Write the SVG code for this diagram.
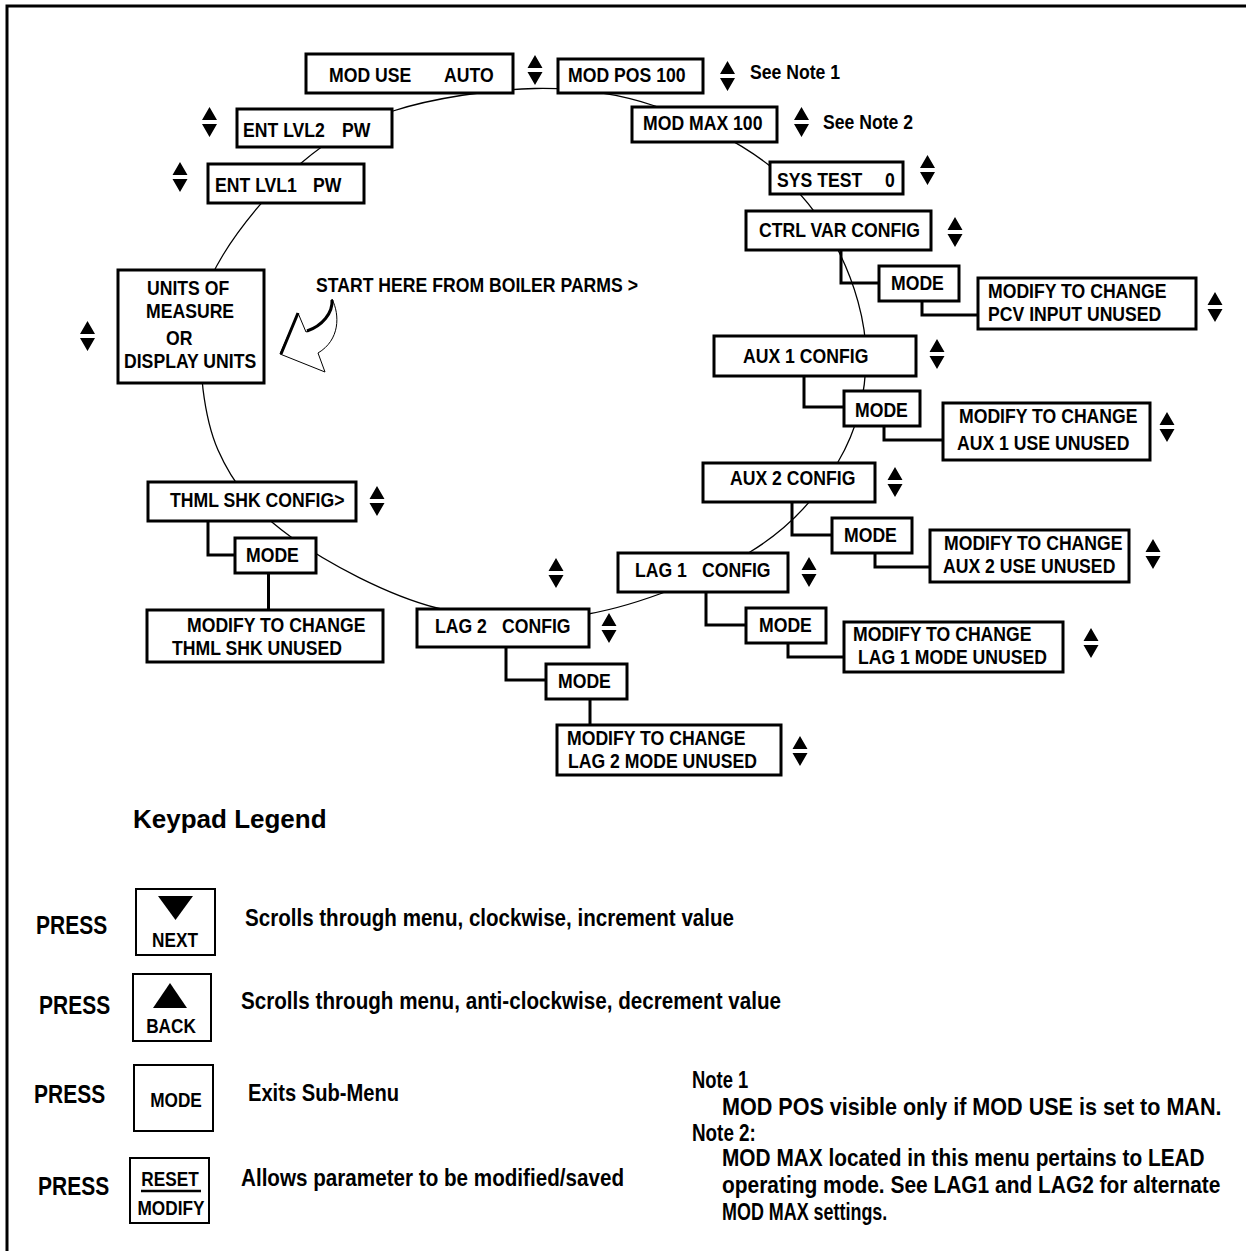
<svg xmlns="http://www.w3.org/2000/svg" width="1246" height="1251" viewBox="0 0 1246 1251">
<style>
text { font-family: "Liberation Sans", Arial, sans-serif; font-weight: bold; fill: #000; }
.n { font-size: 21px; }
.lg { font-size: 24px; }
.nt { font-size: 23px; }
.pr { font-size: 25px; }
.kt { font-size: 21px; text-anchor: middle; }
.title { font-size: 26px; }
.box { fill: #fff; stroke: #000; stroke-width: 3; }
.key { fill: #fff; stroke: #000; stroke-width: 2; }
.elb { fill: none; stroke: #000; stroke-width: 3; }
.ring { fill: none; stroke: #000; stroke-width: 1.3; }
</style>
<defs>
<g id="ud"><path d="M0,13 L7.5,0 L15,13 Z M0,17 L15,17 L7.5,30 Z" fill="#000"/></g>
</defs>
<rect x="0" y="0" width="1246" height="1251" fill="#fff"/>
<path d="M7,1251 V6 H1246" fill="none" stroke="#000" stroke-width="3"/>

<g id="connectors">
<path class="ring" d="M535,88.5 C578.7,87.7 615.8,92.8 655,106 C694.2,119.2 739.5,142 770,166 C800.5,190 822,218.3 838,250 C854,281.7 866,320.7 866,356 C866,391.3 857.3,429.3 838,462 C818.7,494.7 791.7,526.7 750,552 C708.3,577.3 640.2,604.7 588,614 C535.8,623.3 486.5,620.8 437,608 C387.5,595.2 327.5,563.3 291,537 C254.5,510.7 233.2,484.5 218,450 C202.8,415.5 199.2,362.5 200,330 C200.8,297.5 206.3,282.7 223,255 C239.7,227.3 271.7,188 300,164 C328.3,140 353.8,123.8 393,111 C432.2,98.2 491.3,89.3 535,88.5 Z"/>
<path class="elb" d="M841,250 V283 H879 M922,301 V315 H978"/>
<path class="elb" d="M804,376 V407 H844 M884,426 V440 H943"/>
<path class="elb" d="M792,502 V535 H832 M875,553 V567 H930"/>
<path class="elb" d="M706,592 V625 H746 M788,643 V657 H844"/>
<path class="elb" d="M506,647 V680 H546 M590,699 V725"/>
<path class="elb" d="M208,521 V555 H235 M268.5,573 V610"/>
</g>

<g id="mod-use"><rect class="box" x="306" y="54" width="207" height="39"/><text class="n" transform="translate(329,82) scale(.84,1)">MOD USE<tspan x="137">AUTO</tspan></text></g>
<g id="mod-pos"><rect class="box" x="558" y="59" width="145" height="34"/><text class="n" transform="translate(568,82) scale(.84,1)">MOD POS 100</text></g>
<g id="mod-max"><rect class="box" x="632" y="107" width="145" height="35"/><text class="n" transform="translate(643,130) scale(.84,1)">MOD MAX 100</text></g>
<g id="sys-test"><rect class="box" x="770" y="162" width="133" height="32"/><text class="n" transform="translate(777,187) scale(.84,1)">SYS TEST<tspan x="128.6">0</tspan></text></g>
<g id="ctrl-var"><rect class="box" x="746" y="211" width="185" height="39"/><text class="n" transform="translate(759,237) scale(.84,1)">CTRL VAR CONFIG</text></g>
<g id="ctrl-mode"><rect class="box" x="879" y="266" width="80" height="35"/><text class="n" transform="translate(891,290) scale(.84,1)">MODE</text></g>
<g id="pcv"><rect class="box" x="978" y="278" width="218" height="51"/><text class="n" transform="translate(988,298) scale(.84,1)">MODIFY TO CHANGE</text><text class="n" transform="translate(988,321) scale(.84,1)">PCV INPUT UNUSED</text></g>
<g id="aux1"><rect class="box" x="714" y="336" width="202" height="40"/><text class="n" transform="translate(743,363) scale(.84,1)">AUX 1 CONFIG</text></g>
<g id="aux1-mode"><rect class="box" x="844" y="391" width="76" height="35"/><text class="n" transform="translate(855,417) scale(.84,1)">MODE</text></g>
<g id="aux1-use"><rect class="box" x="943" y="403" width="207" height="57"/><text class="n" transform="translate(959,423) scale(.84,1)">MODIFY TO CHANGE</text><text class="n" transform="translate(957,450) scale(.84,1)">AUX 1 USE UNUSED</text></g>
<g id="aux2"><rect class="box" x="703" y="463" width="172" height="39"/><text class="n" transform="translate(730,485) scale(.84,1)">AUX 2 CONFIG</text></g>
<g id="aux2-mode"><rect class="box" x="832" y="518" width="80" height="35"/><text class="n" transform="translate(844,542) scale(.84,1)">MODE</text></g>
<g id="aux2-use"><rect class="box" x="930" y="530" width="199" height="52"/><text class="n" transform="translate(944,550) scale(.84,1)">MODIFY TO CHANGE</text><text class="n" transform="translate(943,573) scale(.84,1)">AUX 2 USE UNUSED</text></g>
<g id="lag1"><rect class="box" x="618" y="553" width="170" height="39"/><text class="n" transform="translate(635,577) scale(.84,1)">LAG 1<tspan x="79.8">CONFIG</tspan></text></g>
<g id="lag1-mode"><rect class="box" x="746" y="608" width="80" height="35"/><text class="n" transform="translate(759,632) scale(.84,1)">MODE</text></g>
<g id="lag1-unused"><rect class="box" x="844" y="622" width="219" height="50"/><text class="n" transform="translate(853,641) scale(.84,1)">MODIFY TO CHANGE</text><text class="n" transform="translate(858,664) scale(.84,1)">LAG 1 MODE UNUSED</text></g>
<g id="lag2"><rect class="box" x="417" y="609" width="172" height="38"/><text class="n" transform="translate(435,633) scale(.84,1)">LAG 2<tspan x="79.8">CONFIG</tspan></text></g>
<g id="lag2-mode"><rect class="box" x="546" y="664" width="81" height="35"/><text class="n" transform="translate(558,688) scale(.84,1)">MODE</text></g>
<g id="lag2-unused"><rect class="box" x="557" y="725" width="224" height="50"/><text class="n" transform="translate(567,745) scale(.84,1)">MODIFY TO CHANGE</text><text class="n" transform="translate(568,768) scale(.84,1)">LAG 2 MODE UNUSED</text></g>
<g id="thml"><rect class="box" x="148" y="482" width="208" height="39"/><text class="n" transform="translate(170,507) scale(.84,1)">THML SHK CONFIG&gt;</text></g>
<g id="thml-mode"><rect class="box" x="235" y="538" width="81" height="35"/><text class="n" transform="translate(246,562) scale(.84,1)">MODE</text></g>
<g id="thml-unused"><rect class="box" x="147" y="610" width="236" height="52"/><text class="n" transform="translate(187,632) scale(.84,1)">MODIFY TO CHANGE</text><text class="n" transform="translate(172,655) scale(.84,1)">THML SHK UNUSED</text></g>
<g id="ent2"><rect class="box" x="237" y="109" width="155" height="38"/><text class="n" transform="translate(243,137) scale(.84,1)">ENT LVL2<tspan x="117.9">PW</tspan></text></g>
<g id="ent1"><rect class="box" x="208" y="164" width="156" height="39"/><text class="n" transform="translate(215,192) scale(.84,1)">ENT LVL1<tspan x="116.7">PW</tspan></text></g>
<g id="units"><rect class="box" x="118" y="270" width="146" height="113"/>
<text class="n" transform="translate(147,295) scale(.84,1)">UNITS OF</text>
<text class="n" transform="translate(146,318) scale(.84,1)">MEASURE</text>
<text class="n" transform="translate(166,345) scale(.84,1)">OR</text>
<text class="n" transform="translate(124,368) scale(.84,1)">DISPLAY UNITS</text></g>

<g id="start">
<text class="n" transform="translate(316,292) scale(.84,1)">START HERE FROM BOILER PARMS &gt;</text>
<path d="M332,299 C333,312 322,326 306,332 L298,313 L280,354 L325,372 L318,353 C340,340 340,315 332,299 Z" fill="#fff" stroke="#000" stroke-width="1"/>
<path d="M332,300 C333,313 322,326 307,331 M298,313 L281,354" fill="none" stroke="#000" stroke-width="3"/>
</g>

<g id="arrows">
<use href="#ud" x="527.5" y="55"/>
<use href="#ud" x="720" y="61"/>
<use href="#ud" x="794" y="107"/>
<use href="#ud" x="920" y="155"/>
<use href="#ud" x="947.5" y="217"/>
<use href="#ud" x="202" y="107"/>
<use href="#ud" x="172.5" y="162"/>
<use href="#ud" x="80" y="321"/>
<use href="#ud" x="1207.5" y="292"/>
<use href="#ud" x="929.5" y="339"/>
<use href="#ud" x="1159.5" y="412"/>
<use href="#ud" x="887.5" y="467"/>
<use href="#ud" x="1145.5" y="539"/>
<use href="#ud" x="801.5" y="557"/>
<use href="#ud" x="1083.5" y="628"/>
<use href="#ud" x="369.5" y="486"/>
<use href="#ud" x="548.5" y="558"/>
<use href="#ud" x="601.5" y="613"/>
<use href="#ud" x="792.5" y="736"/>
</g>
<text class="n" transform="translate(750,79) scale(.84,1)">See Note 1</text>
<text class="n" transform="translate(823,129) scale(.84,1)">See Note 2</text>

<g id="legend">
<text class="title" x="133" y="828">Keypad Legend</text>
<text class="pr" transform="translate(36,934) scale(.84,1)">PRESS</text>
<rect class="key" x="136" y="889" width="79" height="66"/>
<path d="M158,896 L193,896 L175.5,920 Z"/>
<text class="kt" transform="translate(175,947) scale(.82,1)">NEXT</text>
<text class="lg" x="245" y="926" textLength="489" lengthAdjust="spacingAndGlyphs">Scrolls through menu, clockwise, increment value</text>

<text class="pr" transform="translate(39,1014) scale(.84,1)">PRESS</text>
<rect class="key" x="133" y="974" width="78" height="67"/>
<path d="M153,1008 L187,1008 L170,983 Z"/>
<text class="kt" transform="translate(171,1033) scale(.82,1)">BACK</text>
<text class="lg" x="241" y="1009" textLength="540" lengthAdjust="spacingAndGlyphs">Scrolls through menu, anti-clockwise, decrement value</text>

<text class="pr" transform="translate(34,1103) scale(.84,1)">PRESS</text>
<rect class="key" x="134" y="1065" width="79" height="66"/>
<text class="kt" transform="translate(176,1107) scale(.82,1)">MODE</text>
<text class="lg" x="248" y="1101" textLength="151" lengthAdjust="spacingAndGlyphs">Exits Sub-Menu</text>

<text class="pr" transform="translate(38,1195) scale(.84,1)">PRESS</text>
<rect class="key" x="130" y="1158" width="79" height="65"/>
<text class="kt" transform="translate(170,1186) scale(.82,1)">RESET</text>
<line x1="141" y1="1191" x2="201" y2="1191" stroke="#000" stroke-width="2.5"/>
<text class="kt" transform="translate(171,1215) scale(.82,1)">MODIFY</text>
<text class="lg" x="241" y="1186" textLength="383" lengthAdjust="spacingAndGlyphs">Allows parameter to be modified/saved</text>
</g>

<g id="notes">
<text class="nt" transform="translate(692,1088) scale(.8,1)">Note 1</text>
<text class="nt" transform="translate(722,1115) scale(.938,1)">MOD POS visible only if MOD USE is set to MAN.</text>
<text class="nt" transform="translate(692,1141) scale(.82,1)">Note 2:</text>
<text class="nt" transform="translate(722,1166) scale(.906,1)">MOD MAX located in this menu pertains to LEAD</text>
<text class="nt" transform="translate(722,1193) scale(.91,1)">operating mode. See LAG1 and LAG2 for alternate</text>
<text class="nt" transform="translate(722,1220) scale(.78,1)">MOD MAX settings.</text>
</g>
</svg>
